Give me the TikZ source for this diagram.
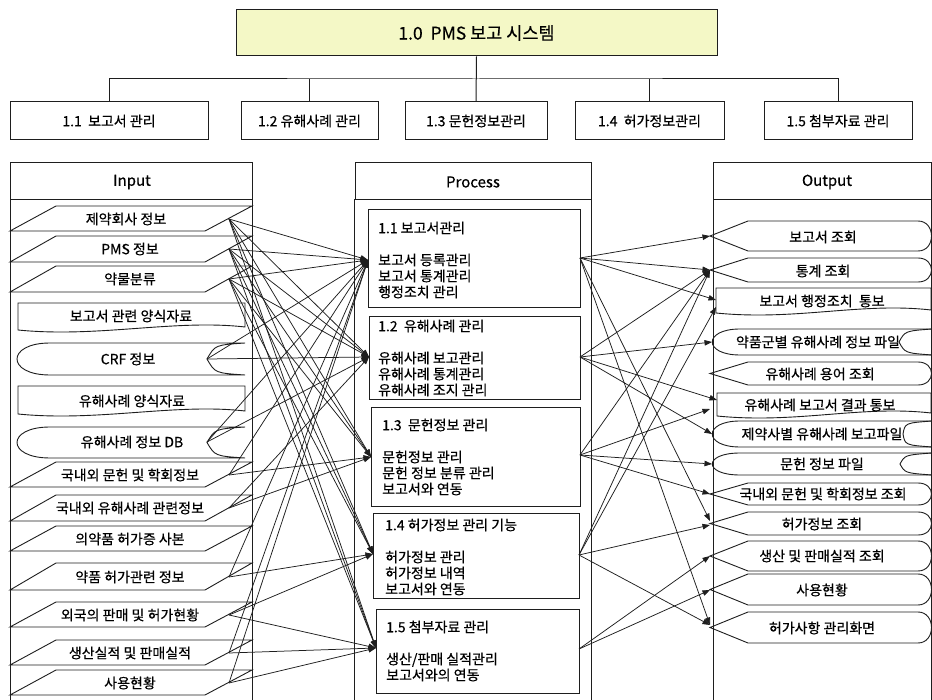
\documentclass[tikz,border=0pt]{standalone}
\usepackage{fontspec}
\setmainfont{Noto Sans CJK KR}[UprightFeatures={FakeBold=0.5}]
\usetikzlibrary{arrows.meta}
\definecolor{titlefill}{HTML}{F4F8C6}
\definecolor{ink}{HTML}{1E1E1E}

% shape helpers (y grows downward)
\newcommand\paraShape[2]{\draw[shp] (10,#2) -- (56,#1) -- (252,#1) -- (205,#2) -- cycle;}
\newcommand\docShape[4]{\draw[shp] (#1,#3) -- (#2,#3) -- (#2,{#4-3})
   .. controls ({#2-70},{#4-11}) and ({#1+80},{#4+8}) .. (#1,#4) -- cycle;}
\newcommand\storeIn[2]{\draw[shp] (50,#1) -- (245,#1)
   .. controls (215,{#1+2}) .. (207,{(#1+#2)/2}) .. controls (215,{#2-2}) .. (245,#2)
   -- (50,#2) .. controls (6,#2) and (6,#1) .. (50,#1);}
\newcommand\storeOut[3]{\draw[shp] (932,#1) -- (740,#1) .. controls (703,#1) and (703,#2) .. (740,#2) -- (932,#2);
   \draw[shp] (932,#1) .. controls (905,{#1+2}) .. (#3,{(#1+#2)/2}) .. controls (905,{#2-2}) .. (932,#2);}
\newcommand\dispShape[2]{\draw[shp] (710,{(#1+#2)/2}) -- (748,#1) -- (918,#1)
   .. controls (936,#1) and (936,#2) .. (918,#2) -- (748,#2) -- cycle;}

\begin{document}
\begin{tikzpicture}[x=1pt,y=-1pt,
  frame/.style={draw=ink, line width=1pt},
  shp/.style={draw=ink, line width=0.9pt},
  txt/.style={font=\fontsize{14}{16}\selectfont, inner sep=0pt},
  head/.style={font=\fontsize{15}{17}\selectfont, inner sep=0pt},
  topbox/.style={draw=ink, line width=1pt, fill=white, minimum height=38pt,
                 font=\fontsize{14}{16}\selectfont, inner sep=0pt},
  pbox/.style={draw=ink, line width=1pt, anchor=north west, inner sep=0pt},
  ptext/.style={font=\fontsize{14}{16}\selectfont, align=left, anchor=west, inner sep=0pt},
  link/.style={draw=ink, line width=0.75pt, -{Triangle[length=7.5pt,width=5.5pt]}},
]
\useasboundingbox (0,0) rectangle (932,700);
\fill[white] (0,0) rectangle (932,700);

% ---------------- hierarchy ----------------
\node[draw=ink, line width=1pt, fill=titlefill, minimum width=481pt, minimum height=46pt,
      font=\fontsize{17.5}{20}\selectfont] (root) at (476.5,33) {1.0\ \ PMS 보고 시스템};
\node[topbox, minimum width=198pt] (b11) at (109,121)   {1.1\ \ 보고서 관리};
\node[topbox, minimum width=137pt] (b12) at (309.5,121) {1.2 유해사례 관리};
\node[topbox, minimum width=142pt] (b13) at (476,121)   {1.3 문헌정보관리};
\node[topbox, minimum width=149pt] (b14) at (649.5,121) {1.4\ \ 허가정보관리};
\node[topbox, minimum width=148pt] (b15) at (838,121)   {1.5 첨부자료 관리};
\coordinate (bus) at (476,79);
\draw[frame] (b11.north) |- (bus) -| (b15.north);
\draw[frame] (b12.north) -- (b12.north |- bus);
\draw[frame] (b14.north) -- (b14.north |- bus);
\draw[frame] (root.south) -- (b13.north);

% ---------------- column frames ----------------
\draw[frame] (10,163) rectangle (252,200);
\draw[frame] (10,200) rectangle (252,705);
\node[head] (hin) at (132,182) {Input};
\draw[frame] (355,163) rectangle (591,200);
\draw[frame] (354,200) rectangle (591,705);
\node[head] (hproc) at (473,182) {Process};
\draw[frame] (713,163) rectangle (931,200);
\draw[frame] (713,200) rectangle (931,705);
\node[head] (hout) at (827,182) {Output};

% ---------------- inputs ----------------
\paraShape{206}{231} \node[txt] (i1) at (126,219) {제약회사 정보};
\paraShape{236}{262} \node[txt] (i2) at (130,249) {PMS 정보};
\paraShape{266}{292} \node[txt] (i3) at (130,279) {약물분류};
\docShape{18}{245}{303}{330} \node[txt] (i4) at (131,316) {보고서 관련 양식자료};
\storeIn{343}{375} \node[txt] (i5) at (128,359) {CRF 정보};
\docShape{18}{245}{386}{414} \node[txt] (i6) at (132,401) {유해사례 양식자료};
\storeIn{427}{458} \node[txt] (i7) at (132,442) {유해사례 정보 DB};
\paraShape{462}{487} \node[txt] (i8) at (130,475) {국내외 문헌 및 학회정보};
\paraShape{495}{521} \node[txt] (i9) at (130,508) {국내외 유해사례 관련정보};
\paraShape{526}{551} \node[txt] (i10) at (130,539) {의약품 허가증 사본};
\paraShape{563}{590} \node[txt] (i11) at (130,577) {약품 허가관련 정보};
\paraShape{602}{627} \node[txt] (i12) at (130,615) {외국의 판매 및 허가현황};
\paraShape{640}{665} \node[txt] (i13) at (130,653) {생산실적 및 판매실적};
\paraShape{670}{695} \node[txt] (i14) at (130,683) {사용현황};

\coordinate (s1) at (229,219);
\coordinate (s2) at (229,249);
\coordinate (s3) at (229,279);
\coordinate (s5) at (207,359);
\coordinate (s7) at (207,442);
\coordinate (s8) at (229,475);
\coordinate (s9) at (229,508);
\coordinate (s11) at (229,577);
\coordinate (s12) at (229,615);
\coordinate (s13) at (229,653);
\coordinate (s14) at (229,683);

% ---------------- processes ----------------
\node[pbox, minimum width=212pt, minimum height=98pt] (p1) at (368,209) {};
\node[ptext] (p1t) at (378,260) {1.1 보고서관리\\[16pt]보고서 등록관리\\보고서 통계관리\\행정조치 관리};
\node[pbox, minimum width=211pt, minimum height=83pt] (p2) at (369,316) {};
\node[ptext] (p2t) at (378,358) {1.2\ \ 유해사례 관리\\[16pt]유해사례 보고관리\\유해사례 통계관리\\유해사례 조지 관리};
\node[pbox, minimum width=209pt, minimum height=99pt] (p3) at (371,407) {};
\node[ptext] (p3t) at (382,457) {1.3\ \ 문헌정보 관리\\[16pt]문헌정보 관리\\문헌 정보 분류 관리\\보고서와 연동};
\node[pbox, minimum width=206pt, minimum height=85pt] (p4) at (373,513) {};
\node[ptext] (p4t) at (385,557) {1.4 허가정보 관리 기능\\[16pt]허가정보 관리\\허가정보 내역\\보고서와 연동};
\node[pbox, minimum width=203pt, minimum height=84pt] (p5) at (376,609) {};
\node[ptext] (p5t) at (386,651) {1.5 첨부자료 관리\\[16pt]생산/판매 실적관리\\보고서와의 연동};

\coordinate (ta) at (368,260);
\coordinate (tb) at (369,357);
\coordinate (tc) at (371,457);
\coordinate (td) at (373,554);
\coordinate (te) at (376,648);
\coordinate (ra) at (580,258);
\coordinate (rb) at (580,357);
\coordinate (rc) at (580,455);
\coordinate (rd) at (579,555);
\coordinate (re) at (579,649);

% ---------------- outputs ----------------
\dispShape{221}{251} \node[txt] (o1) at (823,237) {보고서 조회};
\dispShape{258}{282} \node[txt] (o2) at (823,271) {통계 조회};
\docShape{716}{931}{288}{313} \node[txt] (o3) at (822,301) {보고서 행정조치\ \ 통보};
\storeOut{329}{355}{899} \node[txt] (o4) at (818,342) {약품군별 유해사례 정보 파일};
\dispShape{362}{385} \node[txt] (o5) at (820,374) {유해사례 용어 조회};
\docShape{717}{931}{393}{416} \node[txt] (o6) at (820,405) {유해사례 보고서 결과 통보};
\storeOut{421}{447}{903} \node[txt] (o7) at (822,434) {제약사별 유해사례 보고파일};
\storeOut{453}{475}{900} \node[txt] (o8) at (822,464) {문헌 정보 파일};
\dispShape{483}{505} \node[txt] (o9) at (823,494) {국내외 문헌 및 학회정보 조회};
\dispShape{512}{535} \node[txt] (o10) at (822,524) {허가정보 조회};
\dispShape{541}{571} \node[txt] (o11) at (822,556) {생산 및 판매실적 조회};
\dispShape{574}{605} \node[txt] (o12) at (822,590) {사용현황};
\dispShape{612}{643} \node[txt] (o13) at (822,628) {허가사항 관리화면};

\coordinate (u1) at (710,236);
\coordinate (u2) at (710,270);
\coordinate (u3) at (716,300);
\coordinate (u3b) at (716,307);
\coordinate (u4) at (712,342);
\coordinate (u6) at (717,400);
\coordinate (u6b) at (710,409);
\coordinate (u7) at (712,434);
\coordinate (u8) at (712,464);
\coordinate (u9) at (710,494);
\coordinate (u10) at (710,521);
\coordinate (u10b) at (710,525);
\coordinate (u11) at (710,556);
\coordinate (u12) at (710,590);
\coordinate (u13) at (710,625);

% ---------------- input -> process ----------------
\foreach \s in {s1,s2,s3}
  \foreach \t in {ta,tb,tc,td,te}
    \draw[link] (\s) -- (\t);
\draw[link] (s5) -- (ta);  \draw[link] (s5) -- (tb);
\draw[link] (s7) -- (ta);  \draw[link] (s7) -- (tb);
\draw[link] (s8) -- (tc);  \draw[link] (s8) -- (ta);
\draw[link] (s9) -- (tc);  \draw[link] (s9) -- (tb);
\draw[link] (s11) -- (td); \draw[link] (s11) -- (ta);
\draw[link] (s12) -- (td); \draw[link] (s12) -- (te);
\draw[link] (s13) -- (te); \draw[link] (s13) -- (ta);
\draw[link] (s14) -- (te); \draw[link] (s14) -- (ta);

% ---------------- process -> output ----------------
\foreach \t in {u1,u2,u3,u10,u13} \draw[link] (ra) -- (\t);
\foreach \t in {u2,u4,u6,u7} \draw[link] (rb) -- (\t);
\foreach \t in {u2,u6b,u8,u9} \draw[link] (rc) -- (\t);
\foreach \t in {u2,u3b,u10b,u13} \draw[link] (rd) -- (\t);
\foreach \t in {u11,u12} \draw[link] (re) -- (\t);
\end{tikzpicture}
\end{document}
